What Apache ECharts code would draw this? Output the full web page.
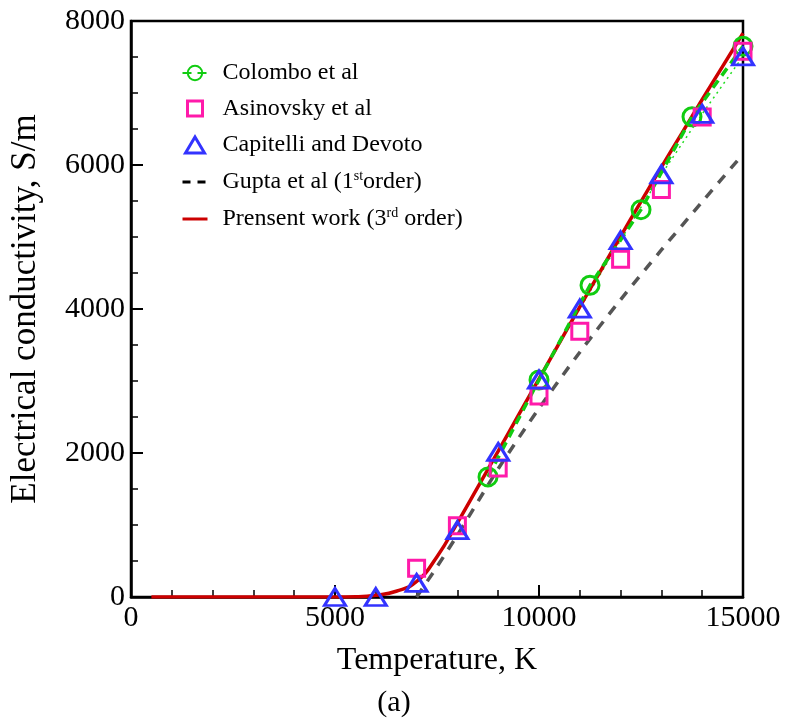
<!DOCTYPE html>
<html>
<head>
<meta charset="utf-8">
<script src="https://cdn.jsdelivr.net/npm/echarts@6/dist/echarts.min.js"></script>
<style>
html,body{margin:0;padding:0;background:#fff;}
#chart{width:788px;height:718px;}
</style>
</head>
<body>
<div id="chart"></div>
<script>
// ---- data ----
const xTicks = [0, 5000, 10000, 15000];
const yTicks = [0, 2000, 4000, 6000, 8000];

const tempPresent  = [500, 5000, 5500, 6000, 6500, 7000, 7500, 8000, 8500, 9000, 9500, 10000, 10500, 11000, 11500, 12000, 12500, 13000, 13500, 14000, 14500, 15000];
const sigmaPresent = [0, 0, 4, 25, 80, 215, 560, 1030, 1525, 2025, 2530, 3030, 3530, 4030, 4520, 5010, 5490, 5970, 6440, 6910, 7370, 7830];

const tempGupta  = [7000, 7500, 8000, 9000, 10000, 11000, 12000, 13000, 14000, 15000];
const sigmaGupta = [0, 420, 860, 1780, 2620, 3400, 4130, 4820, 5490, 6150];

const tempColombo  = [8750, 10000, 11250, 12500, 13750, 15000];
const sigmaColombo = [1668, 3015, 4330, 5380, 6670, 7650];

const tempAsinovsky  = [7000, 8000, 9000, 10000, 11000, 12000, 13000, 14000, 15000];
const sigmaAsinovsky = [398, 990, 1790, 2790, 3690, 4690, 5660, 6665, 7580];

const tempCapitelli  = [5000, 6000, 7000, 8000, 9000, 10000, 11000, 12000, 13000, 14000, 15000];
const sigmaCapitelli = [0, 0, 195, 930, 2015, 3020, 4005, 4955, 5870, 6710, 7510];

const seriesNames = ['Colombo et al', 'Asinovsky et al', 'Capitelli and Devoto', 'Gupta et al (1st order)', 'Prensent work (3rd order)'];

function pairs(xs, ys) { return xs.map((x, i) => [x, ys[i]]); }

const FONT = '"Liberation Serif", "Times New Roman", serif';
const C_GREEN = '#11cc11', C_MAG = '#ff1aaa', C_BLUE = '#3333ff', C_RED = '#cc0000', C_GRAY = '#555555';
const chart = echarts.init(document.getElementById('chart'), null, {renderer: 'canvas'});

const option = {
  backgroundColor: '#fff',
  animation: false,
  grid: { left: 131, right: 45, top: 21, bottom: 121, show: true, borderColor: '#000', borderWidth: 2.5, backgroundColor: 'transparent' },
  xAxis: {
    type: 'value', min: xTicks[0], max: xTicks[xTicks.length - 1], interval: xTicks[1] - xTicks[0],
    name: 'Temperature, K', nameLocation: 'middle', nameGap: 48,
    nameTextStyle: { fontFamily: FONT, fontSize: 32, color: '#000' },
    axisLine: { show: true, lineStyle: { color: '#000', width: 2.5 } },
    axisTick: { show: true, inside: true, length: 12, lineStyle: { color: '#000', width: 2 } },
    minorTick: { show: true, splitNumber: 5, length: 7, lineStyle: { color: '#000', width: 1.5 } },
    axisLabel: { fontFamily: FONT, fontSize: 30, color: '#000', margin: 6, formatter: v => String(v) },
    splitLine: { show: false }
  },
  yAxis: {
    type: 'value', min: yTicks[0], max: yTicks[yTicks.length - 1], interval: yTicks[1] - yTicks[0],
    name: 'Electrical conductivity, S/m', nameLocation: 'middle', nameGap: 88,
    nameTextStyle: { fontFamily: FONT, fontSize: 35, color: '#000' },
    axisLine: { show: true, lineStyle: { color: '#000', width: 2.5 } },
    axisTick: { show: true, inside: true, length: 12, lineStyle: { color: '#000', width: 2 } },
    minorTick: { show: true, splitNumber: 4, length: 7, lineStyle: { color: '#000', width: 1.5 } },
    axisLabel: { fontFamily: FONT, fontSize: 30, color: '#000', margin: 6, formatter: v => String(v) },
    splitLine: { show: false }
  },
  legend: {
    orient: 'vertical', left: 181, top: 61, padding: 0,
    itemWidth: 25, itemHeight: 18, itemGap: 12,
    data: [
      { name: seriesNames[0] },
      { name: seriesNames[1], icon: 'path://M0,0M25,18M5,1h15v15h-15z',
        itemStyle: { color: 'transparent', borderColor: C_MAG, borderWidth: 3 } },
      { name: seriesNames[2], icon: 'path://M0,0M25,18M12.5,1L22,17H3Z',
        itemStyle: { color: 'transparent', borderColor: C_BLUE, borderWidth: 3 } },
      { name: seriesNames[3], icon: 'path://M0,0M25,18M0,7.5h8v3h-8zM15,7.5h8v3h-8z',
        itemStyle: { color: '#000', borderWidth: 0 } },
      { name: seriesNames[4], icon: 'path://M0,0M25,18M0,7.5h25v3h-25z',
        itemStyle: { color: C_RED, borderWidth: 0 } }
    ],
    textStyle: {
      fontFamily: FONT, fontSize: 24, color: '#000', padding: [0, 0, 0, 10],
      rich: { sup: { fontFamily: FONT, fontSize: 14, color: '#000', padding: [0, 0, 12, 0] } }
    },
    formatter: function (name) {
      if (name === seriesNames[3]) return 'Gupta et al (1{sup|st}order)';
      if (name === seriesNames[4]) return 'Prensent work (3{sup|rd} order)';
      return name;
    }
  },
  graphic: [{
    type: 'text', left: 'center', top: 688,
    style: { text: '(a)', font: '30px ' + FONT, fill: '#000' }
  }],
  series: [
    {
      name: seriesNames[3], type: 'line', data: pairs(tempGupta, sigmaGupta),
      smooth: 0.3, showSymbol: false, symbol: 'none', z: 2,
      lineStyle: { color: C_GRAY, width: 3.5, type: [10, 9] },
      itemStyle: { color: '#000' }
    },
    {
      name: 'capitelli-dotted', type: 'line', data: pairs(tempCapitelli.slice(4), sigmaCapitelli.slice(4)),
      showSymbol: false, symbol: 'none', z: 3, legendHoverLink: false,
      lineStyle: { color: '#22dd22', width: 1.5, type: [2, 4] }
    },
    {
      name: seriesNames[0], type: 'line', data: pairs(tempColombo, sigmaColombo),
      symbol: 'circle', symbolSize: 18, z: 5,
      lineStyle: { color: C_GREEN, width: 3.5, type: [9, 6] },
      itemStyle: { color: 'transparent', borderColor: C_GREEN, borderWidth: 3 }
    },
    {
      name: seriesNames[4], type: 'line', data: pairs(tempPresent, sigmaPresent),
      smooth: 0.5, showSymbol: false, symbol: 'none', z: 4,
      lineStyle: { color: C_RED, width: 3.5 },
      itemStyle: { color: C_RED }
    },
    {
      name: seriesNames[1], type: 'scatter', data: pairs(tempAsinovsky, sigmaAsinovsky),
      symbol: 'rect', symbolSize: 16, z: 6,
      itemStyle: { color: 'transparent', borderColor: C_MAG, borderWidth: 3, opacity: 1 }
    },
    {
      name: seriesNames[2], type: 'scatter', data: pairs(tempCapitelli, sigmaCapitelli),
      symbol: 'triangle', symbolSize: [21, 17], z: 7,
      itemStyle: { color: 'transparent', borderColor: C_BLUE, borderWidth: 3, opacity: 1 }
    }
  ]
};
chart.setOption(option);
</script>
</body>
</html>
